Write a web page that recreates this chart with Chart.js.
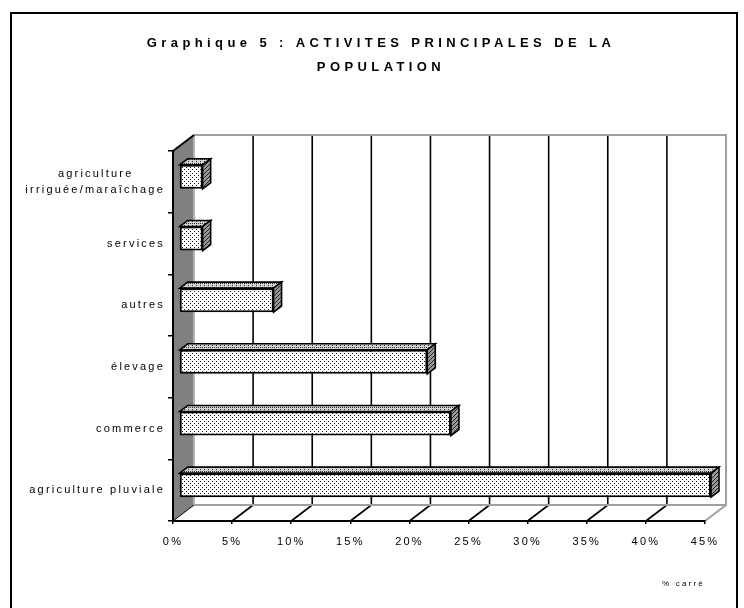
<!DOCTYPE html>
<html>
<head>
<meta charset="utf-8">
<script src="https://cdn.jsdelivr.net/npm/chart.js@4/dist/chart.umd.min.js"></script>
<style>
html,body{margin:0;padding:0;background:#fff;}
#wrap{width:744px;height:608px;}
</style>
</head>
<body>
<div id="wrap"><canvas id="c" width="744" height="608"></canvas></div>
<script>
// ---- data ----
const categories = [['agriculture', 'irriguée/maraîchage'], 'services', 'autres', 'élevage', 'commerce', 'agriculture pluviale'];
const values = [2, 2, 8, 21, 23, 45];
const xTicks = [0, 5, 10, 15, 20, 25, 30, 35, 40, 45];
const titleLines = ['Graphique 5 : ACTIVITES PRINCIPALES DE LA', 'POPULATION'];
const unitLabel = '% carré';

// ---- style ----
const FONT = "'Liberation Sans', Arial, sans-serif";
const WALL = {x: 21, y: -16};      // depth of the 3D box
const BAR_SHIFT = {x: 6, y: -5};   // bars sit a little inside the box
const BAR_DEPTH = {x: 8, y: -6};   // depth of each bar
const TITLE_SPACING = '4.4px';
const AXIS_SPACING = '2.2px';
const TITLE_BOX = {left: 57, right: 705};

function makePattern(base, dot, cells, size) {
  const c = document.createElement('canvas');
  c.width = size; c.height = size;
  const g = c.getContext('2d');
  g.fillStyle = base; g.fillRect(0, 0, size, size);
  g.fillStyle = dot;
  cells.forEach(p => g.fillRect(p[0], p[1], 1, 1));
  return g.createPattern(c, 'repeat');
}
const frontPattern = makePattern('#ffffff', '#1a1a1a', [[0,0],[2,2]], 4);
const topPattern = makePattern('#d4d4d4', '#303030', [[0,0],[2,2],[2,0]], 4);
const sidePattern = makePattern('#9a9a9a', '#202020', [[0,0],[2,2],[1,3],[3,1]], 4);

// pad shorter lines of a multi-line label so that they look centred
function centerLines(lines) {
  const g = document.createElement('canvas').getContext('2d');
  g.font = '11px ' + FONT;
  g.letterSpacing = AXIS_SPACING;
  const ws = lines.map(l => g.measureText(l).width);
  const max = Math.max(...ws);
  const nb = g.measureText('\u00a0').width;
  return lines.map((l, i) => l + '\u00a0'.repeat(Math.round((max - ws[i]) / 2 / nb)));
}

function line(ctx, x1, y1, x2, y2) {
  ctx.beginPath(); ctx.moveTo(x1, y1); ctx.lineTo(x2, y2); ctx.stroke();
}

const look3d = {
  id: 'look3d',
  afterLayout(chart) {
    const tb = chart.titleBlock;
    if (tb) { tb.left = TITLE_BOX.left; tb.right = TITLE_BOX.right; tb.width = tb.right - tb.left; }
  },
  beforeDraw(chart) {
    chart.ctx.letterSpacing = TITLE_SPACING;
  },
  beforeDatasetsDraw(chart) {
    const ctx = chart.ctx, a = chart.chartArea, xs = chart.scales.x;
    const L = xs.getPixelForValue(xTicks[0]);
    const R = xs.getPixelForValue(xTicks[xTicks.length - 1]);
    const T = a.top, B = a.bottom, dx = WALL.x, dy = WALL.y;
    ctx.save();
    ctx.lineCap = 'butt';
    ctx.strokeStyle = '#000';
    ctx.lineWidth = 1.6;
    xTicks.slice(1, -1).forEach(v => {
      const p = xs.getPixelForValue(v);
      line(ctx, p + dx, T + dy, p + dx, B + dy);
      line(ctx, p, B, p + dx, B + dy);
    });
    ctx.strokeStyle = '#a0a0a0';
    ctx.lineWidth = 2;
    ctx.beginPath();
    ctx.moveTo(L + dx, T + dy);
    ctx.lineTo(R + dx, T + dy);
    ctx.lineTo(R + dx, B + dy);
    ctx.lineTo(R, B);
    ctx.stroke();
    line(ctx, L + dx, B + dy, R + dx, B + dy);
    ctx.fillStyle = '#808080';
    ctx.beginPath();
    ctx.moveTo(L, T); ctx.lineTo(L + dx, T + dy); ctx.lineTo(L + dx, B + dy); ctx.lineTo(L, B);
    ctx.closePath(); ctx.fill();
    ctx.strokeStyle = '#b4b4b4';
    ctx.lineWidth = 2;
    line(ctx, L + dx, T + dy, L + dx, B + dy);
    ctx.strokeStyle = '#000';
    ctx.lineWidth = 2;
    line(ctx, L, T, L + dx, T + dy);
    ctx.lineWidth = 1;
    line(ctx, L, B, L + dx, B + dy);
    ctx.restore();
  },
  beforeDatasetDraw(chart) {
    chart.ctx.save();
    chart.ctx.translate(BAR_SHIFT.x, BAR_SHIFT.y);
  },
  afterDatasetDraw(chart, args) {
    const ctx = chart.ctx;
    const meta = args.meta;
    const bx = BAR_DEPTH.x, by = BAR_DEPTH.y;
    meta.data.forEach(el => {
      const p = el.getProps(['x', 'y', 'base', 'height'], true);
      const l = Math.min(p.x, p.base), r = Math.max(p.x, p.base);
      const t = p.y - p.height / 2, b = p.y + p.height / 2;
      ctx.save();
      ctx.lineWidth = 1.6;
      ctx.strokeStyle = '#000';
      ctx.lineJoin = 'miter';
      ctx.beginPath();
      ctx.moveTo(l, t); ctx.lineTo(l + bx, t + by); ctx.lineTo(r + bx, t + by); ctx.lineTo(r, t);
      ctx.closePath();
      ctx.fillStyle = topPattern; ctx.fill(); ctx.stroke();
      ctx.beginPath();
      ctx.moveTo(r, t); ctx.lineTo(r + bx, t + by); ctx.lineTo(r + bx, b + by); ctx.lineTo(r, b);
      ctx.closePath();
      ctx.fillStyle = sidePattern; ctx.fill(); ctx.stroke();
      ctx.restore();
    });
    ctx.restore();
  },
  afterDatasetsDraw(chart) {
    chart.ctx.letterSpacing = AXIS_SPACING;
  },
  afterDraw(chart) {
    const ctx = chart.ctx;
    ctx.save();
    ctx.strokeStyle = '#000';
    ctx.lineWidth = 2;
    ctx.strokeRect(11, 13, 726, 620);
    ctx.restore();
  }
};

new Chart(document.getElementById('c'), {
  type: 'bar',
  data: {
    labels: categories,
    datasets: [{
      data: values,
      backgroundColor: frontPattern,
      borderColor: '#000',
      borderWidth: 2,
      borderSkipped: false,
      barPercentage: 0.39,
      categoryPercentage: 1,
      clip: false
    }]
  },
  options: {
    indexAxis: 'y',
    responsive: false,
    animation: false,
    devicePixelRatio: 1,
    layout: {padding: {left: 15, right: 39, top: 0, bottom: 0}},
    plugins: {
      legend: {display: false},
      tooltip: {enabled: false},
      title: {
        display: true,
        text: titleLines,
        color: '#000',
        font: {family: FONT, size: 13, weight: 'bold', lineHeight: 24 / 13},
        padding: {top: 31, bottom: 72}
      }
    },
    scales: {
      x: {
        type: 'linear',
        position: 'bottom',
        min: xTicks[0],
        max: xTicks[xTicks.length - 1],
        afterBuildTicks(s) { s.ticks = xTicks.map(v => ({value: v})); },
        afterFit(s) { s.height = 87; },
        grid: {drawOnChartArea: false, drawTicks: true, tickLength: 3, color: '#000', lineWidth: 1.5, z: 1},
        border: {display: true, color: '#000', width: 2, z: 1},
        ticks: {
          z: 1, color: '#000', padding: 11, maxRotation: 0, autoSkip: false,
          font: {family: FONT, size: 11},
          callback: v => v + '%'
        },
        title: {
          display: true, text: unitLabel, align: 'end', color: '#000',
          font: {family: FONT, size: 8},
          padding: {top: 0, bottom: 19}
        }
      },
      y: {
        type: 'category',
        offset: true,
        afterFit(s) { s.width = 158; },
        grid: {display: true, drawOnChartArea: false, drawTicks: true, tickLength: 5, offset: true, color: '#000', lineWidth: 1.5, z: 1},
        border: {display: true, color: '#000', width: 2, z: 1},
        ticks: {
          z: 1, color: '#000', padding: 3, autoSkip: false,
          font: {family: FONT, size: 11, lineHeight: 1.45},
          callback(value) {
            const lab = this.getLabelForValue(value);
            return Array.isArray(lab) ? centerLines(lab) : lab;
          }
        }
      }
    }
  },
  plugins: [look3d]
});
</script>
</body>
</html>
